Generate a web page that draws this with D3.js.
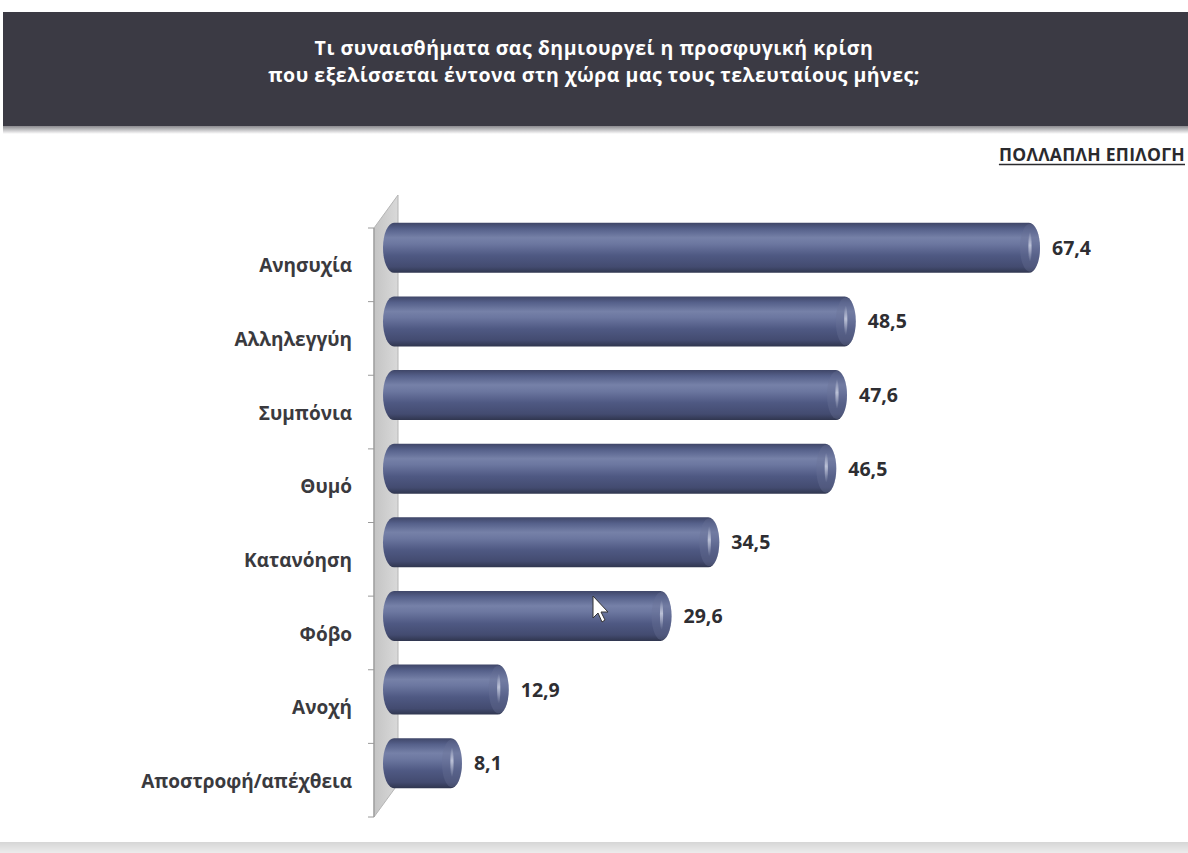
<!DOCTYPE html>
<html>
<head>
<meta charset="utf-8">
<script src="https://cdnjs.cloudflare.com/ajax/libs/d3/7.8.5/d3.min.js"></script>
<style>
  html, body { margin: 0; padding: 0; background: #ffffff; }
  svg { display: block; }
</style>
</head>
<body>
<svg id="chart" width="1188" height="853"></svg>
<script>
// Survey answers (multiple choice), percentages
const categories = ["Ανησυχία", "Αλληλεγγύη", "Συμπόνια", "Θυμό", "Κατανόηση", "Φόβο", "Ανοχή", "Αποστροφή/απέχθεια"];
const values = [67.4, 48.5, 47.6, 46.5, 34.5, 29.6, 12.9, 8.1];
const valueLabels = ["67,4", "48,5", "47,6", "46,5", "34,5", "29,6", "12,9", "8,1"];
const titleLines = ["Τι συναισθήματα σας δημιουργεί η προσφυγική κρίση", "που εξελίσσεται έντονα στη χώρα μας τους τελευταίους μήνες;"];
const noteText = "ΠΟΛΛΑΠΛΗ ΕΠΙΛΟΓΗ";

const svg = d3.select("#chart");
const W = 1188, H = 853;
const font = "'Open Sans', 'Noto Sans', sans-serif";

const defs = svg.append("defs");

// cylinder shading across the bar height
const cyl = defs.append("linearGradient").attr("id", "cyl").attr("x1", 0).attr("y1", 0).attr("x2", 0).attr("y2", 1);
[[0, "#3f4668"], [0.12, "#55608a"], [0.3, "#7681a8"], [0.42, "#6c77a0"], [0.65, "#4f5983"], [0.88, "#434b70"], [1, "#30364f"]]
  .forEach(([o, c]) => cyl.append("stop").attr("offset", o).attr("stop-color", c));

// header band shading
const head = defs.append("linearGradient").attr("id", "headShadow").attr("x1", 0).attr("y1", 0).attr("x2", 0).attr("y2", 1);
head.append("stop").attr("offset", 0).attr("stop-color", "#6d6c72");
head.append("stop").attr("offset", 1).attr("stop-color", "#ffffff");

const foot = defs.append("linearGradient").attr("id", "foot").attr("x1", 0).attr("y1", 0).attr("x2", 0).attr("y2", 1);
foot.append("stop").attr("offset", 0).attr("stop-color", "#d6d6d6");
foot.append("stop").attr("offset", 1).attr("stop-color", "#ececec");

const wall = defs.append("linearGradient").attr("id", "wall").attr("x1", 0).attr("y1", 0).attr("x2", 1).attr("y2", 0);
wall.append("stop").attr("offset", 0).attr("stop-color", "#c4c4c4");
wall.append("stop").attr("offset", 1).attr("stop-color", "#d9d9d9");

const capShine = defs.append("linearGradient").attr("id", "capShine").attr("x1", 0).attr("y1", 0).attr("x2", 0).attr("y2", 1);
capShine.append("stop").attr("offset", 0).attr("stop-color", "#dfe3f0").attr("stop-opacity", 0);
capShine.append("stop").attr("offset", 0.45).attr("stop-color", "#dfe3f0").attr("stop-opacity", 0.7);
capShine.append("stop").attr("offset", 1).attr("stop-color", "#dfe3f0").attr("stop-opacity", 0);

// ---- header ----
svg.append("rect").attr("x", 3).attr("y", 124).attr("width", W - 3).attr("height", 10).attr("fill", "url(#headShadow)");
svg.append("rect").attr("x", 3).attr("y", 12).attr("width", W - 3).attr("height", 114).attr("fill", "#3b3a44");
svg.append("g").selectAll("text").data(titleLines).join("text")
  .attr("x", 594).attr("y", (d, i) => 55 + i * 27)
  .attr("text-anchor", "middle")
  .attr("fill", "#ffffff").attr("font-family", font).attr("font-weight", 700).attr("font-size", 19.5)
  .attr("letter-spacing", 0.5)
  .text(d => d);

// ---- note ----
const note = svg.append("text").attr("x", 1185).attr("y", 161).attr("text-anchor", "end")
  .attr("fill", "#2a2a2e").attr("font-family", font).attr("font-weight", 700).attr("font-size", 17.5)
  .attr("letter-spacing", 0.3)
  .text(noteText);
const nb = note.node().getBBox();
svg.append("line").attr("x1", nb.x).attr("x2", nb.x + nb.width).attr("y1", 164.5).attr("y2", 164.5)
  .attr("stroke", "#2a2a2e").attr("stroke-width", 1.5);

// ---- scales ----
const frontTop = 228, frontBottom = 817;
const depthX = 24, depthY = -33;       // 3D offset of the back plane
const axisX = 374;
const barOffsetX = 9, barOffsetY = -17; // bars sit between front and back plane

const y = d3.scaleBand().domain(categories).range([frontTop, frontBottom]).paddingInner(0.32).paddingOuter(0.16);
const yTicks = d3.scaleBand().domain(categories).range([frontTop, frontBottom]);
const x = d3.scaleLinear().domain([0, 67.4]).range([axisX + barOffsetX, 1040]);

// ---- side wall ----
svg.append("path")
  .attr("d", `M${axisX},${frontTop} L${axisX + depthX},${frontTop + depthY} L${axisX + depthX},${frontBottom + depthY} L${axisX},${frontBottom} Z`)
  .attr("fill", "url(#wall)").attr("stroke", "#b5b5b5").attr("stroke-width", 1);
svg.append("line").attr("x1", axisX).attr("x2", axisX).attr("y1", frontTop).attr("y2", frontBottom)
  .attr("stroke", "#9a9a9a").attr("stroke-width", 1.2);

// category axis with tick marks at band boundaries
const axis = d3.axisLeft(yTicks).tickSize(0).tickPadding(22);
const gAxis = svg.append("g").attr("transform", `translate(${axisX},0)`).call(axis);
gAxis.select(".domain").remove();
gAxis.selectAll("text")
  .attr("fill", "#3a3a3e").attr("font-family", font).attr("font-weight", 700).attr("font-size", 19)
  .attr("dy", "0.4em");
svg.append("g").selectAll("line").data(categories.map(c => yTicks(c)).concat([frontBottom])).join("line")
  .attr("x1", axisX - 6).attr("x2", axisX).attr("y1", d => d).attr("y2", d => d)
  .attr("stroke", "#9a9a9a").attr("stroke-width", 1);

// ---- bars ----
const bars = svg.append("g").selectAll("g").data(categories).join("g");
const bh = y.bandwidth();
bars.append("rect")
  .attr("x", x(0)).attr("y", d => y(d) + barOffsetY)
  .attr("width", (d, i) => x(values[i]) - x(0)).attr("height", bh)
  .attr("rx", 11).attr("ry", bh / 2)
  .attr("fill", "url(#cyl)");
// rounded end cap of each cylinder
bars.append("ellipse")
  .attr("cx", (d, i) => x(values[i]) - 10).attr("cy", d => y(d) + barOffsetY + bh / 2)
  .attr("rx", 10).attr("ry", bh / 2 - 1)
  .attr("fill", "#6a7398").attr("opacity", 0.35);
bars.append("ellipse")
  .attr("cx", (d, i) => x(values[i]) - 10).attr("cy", d => y(d) + barOffsetY + bh / 2 - 1)
  .attr("rx", 1.6).attr("ry", bh * 0.3)
  .attr("fill", "url(#capShine)");

// value labels
svg.append("g").selectAll("text").data(categories).join("text")
  .attr("x", (d, i) => x(values[i]) + 12)
  .attr("y", d => y(d) + barOffsetY + bh / 2 + 7)
  .attr("fill", "#2e2e32").attr("font-family", font).attr("font-weight", 700).attr("font-size", 19.5)
  .text((d, i) => valueLabels[i]);

// ---- pointer cursor on the slide ----
svg.append("path")
  .attr("d", "M593,596 L593,618 L598,613 L602,622 L605,620 L601,612 L608,612 Z")
  .attr("fill", "#ffffff").attr("stroke", "#333333").attr("stroke-width", 1);

// ---- footer band ----
svg.append("rect").attr("x", 0).attr("y", 842).attr("width", W).attr("height", 11).attr("fill", "url(#foot)");
</script>
</body>
</html>
